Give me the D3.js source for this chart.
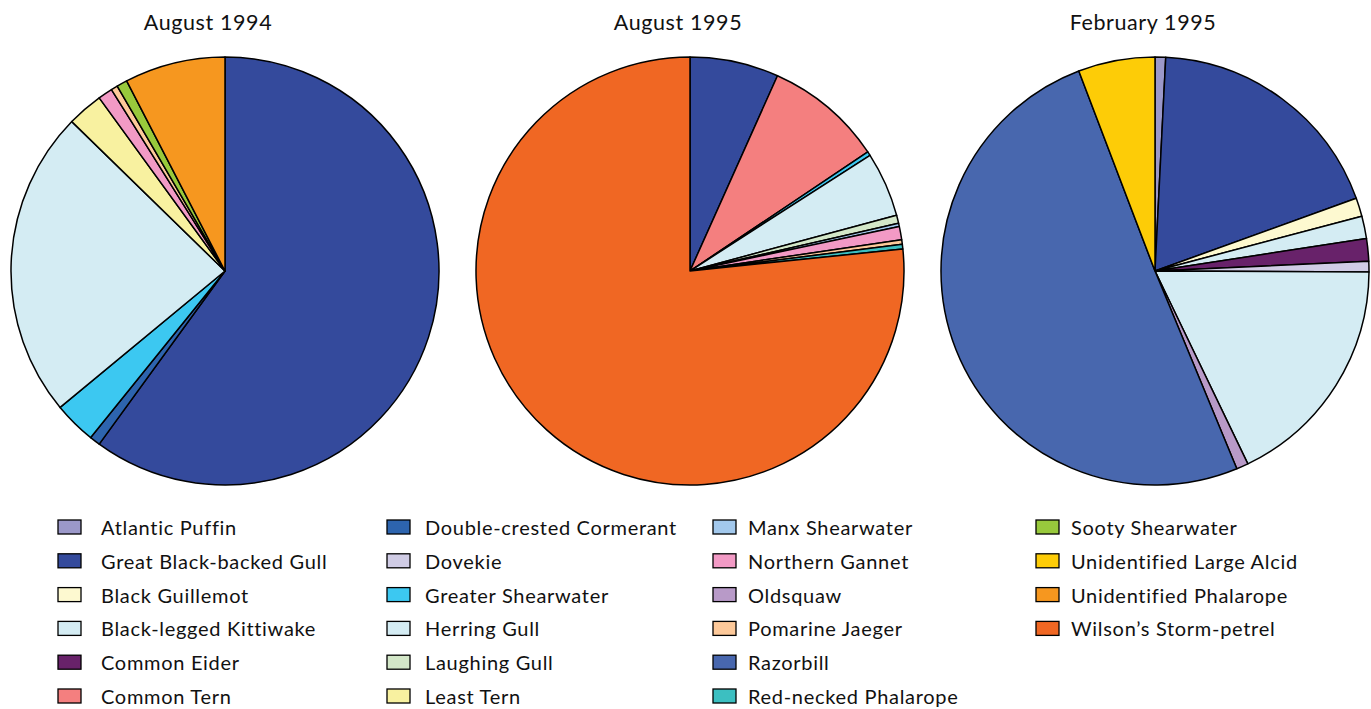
<!DOCTYPE html>
<html>
<head>
<meta charset="utf-8">
<script src="https://cdn.jsdelivr.net/npm/d3@7"></script>
<style>
  html, body { margin: 0; padding: 0; background: #fff; }
  svg text { font-family: Lato, "Open Sans", sans-serif; fill: #111; }
</style>
</head>
<body>
<svg id="chart" width="1371" height="709"></svg>
<script>
// Species, in legend and slice order
const species = [
  "Atlantic Puffin", "Great Black-backed Gull", "Black Guillemot", "Black-legged Kittiwake",
  "Common Eider", "Common Tern", "Double-crested Cormerant", "Dovekie",
  "Greater Shearwater", "Herring Gull", "Laughing Gull", "Least Tern",
  "Manx Shearwater", "Northern Gannet", "Oldsquaw", "Pomarine Jaeger",
  "Razorbill", "Red-necked Phalarope", "Sooty Shearwater", "Unidentified Large Alcid",
  "Unidentified Phalarope", "Wilson\u2019s Storm-petrel"
];

const speciesColors = [
  "#9b98c9", "#344a9c", "#fdf9d0", "#d4ecf3",
  "#68226a", "#f47f7f", "#2d64ae", "#d0cce5",
  "#3cc8f1", "#d4ecf3", "#d3e7c8", "#f8f1a0",
  "#a2c8ec", "#f29ac5", "#b89ac8", "#fdc99a",
  "#4867ae", "#3cbfc1", "#98c93c", "#fdcc07",
  "#f6971f", "#f06723"
];

const surveyTitles = ["August 1994", "August 1995", "February 1995"];

// Percent of birds observed, one value per species (same order as above)
const aug1994 = [
  0, 60.0, 0, 0,
  0, 0, 0.8, 0,
  3.2, 23.3, 0, 2.7,
  0, 1.1, 0, 0.5,
  0, 0, 0.8, 0,
  7.6, 0
];
const aug1995 = [
  0, 6.7, 0, 0,
  0, 8.9, 0, 0,
  0.3, 4.9, 0.6, 0,
  0.25, 1.0, 0, 0.35,
  0, 0.35, 0, 0,
  0, 76.6
];
const feb1995 = [
  0.8, 18.7, 1.4, 1.7,
  1.7, 0, 0, 0.8,
  0, 17.8, 0, 0,
  0, 0, 0.9, 0,
  50.5, 0, 0, 5.8,
  0, 0
];
const surveyValues = [aug1994, aug1995, feb1995];

const svg = d3.select("#chart");
const color = d3.scaleOrdinal().domain(species).range(speciesColors);

// Layout
const radius = 214;
const centerX = d3.scalePoint().domain(surveyTitles).range([225, 1155]);
const centerY = 271;
const titleX = [208, 678, 1143];

const pie = d3.pie().sort(null).value(d => d.value);
const arc = d3.arc().innerRadius(0).outerRadius(radius);

surveyTitles.forEach((title, i) => {
  const slices = species
    .map((name, j) => ({ name, value: surveyValues[i][j] }))
    .filter(d => d.value > 0);

  const g = svg.append("g")
    .attr("transform", `translate(${centerX(title)},${centerY})`);

  g.selectAll("path")
    .data(pie(slices))
    .join("path")
    .attr("d", arc)
    .attr("fill", d => color(d.data.name))
    .attr("stroke", "#000")
    .attr("stroke-width", 1.5)
    .attr("stroke-linejoin", "round");

  svg.append("text")
    .attr("x", titleX[i])
    .attr("y", 22)
    .attr("text-anchor", "middle")
    .attr("dominant-baseline", "central")
    .attr("font-size", 21.5)
    .attr("letter-spacing", 0.6)
    .text(title);
});

// Legend: four columns of up to six rows
const perColumn = 6;
const swatchX = [58, 387, 713, 1036];
const labelX = [101, 425, 748, 1071];
const rowY = d3.scaleLinear().domain([0, 5]).range([527, 696]);

const legend = svg.append("g");
const items = legend.selectAll("g")
  .data(species)
  .join("g")
  .attr("transform", (d, i) => `translate(0,${rowY(i % perColumn)})`);

items.append("rect")
  .attr("x", (d, i) => swatchX[Math.floor(i / perColumn)])
  .attr("y", -7)
  .attr("width", 23)
  .attr("height", 14)
  .attr("fill", d => color(d))
  .attr("stroke", "#000")
  .attr("stroke-width", 1.3);

items.append("text")
  .attr("x", (d, i) => labelX[Math.floor(i / perColumn)])
  .attr("y", 0)
  .attr("dominant-baseline", "central")
  .attr("font-size", 20)
  .attr("letter-spacing", 0.7)
  .text(d => d);
</script>
</body>
</html>
